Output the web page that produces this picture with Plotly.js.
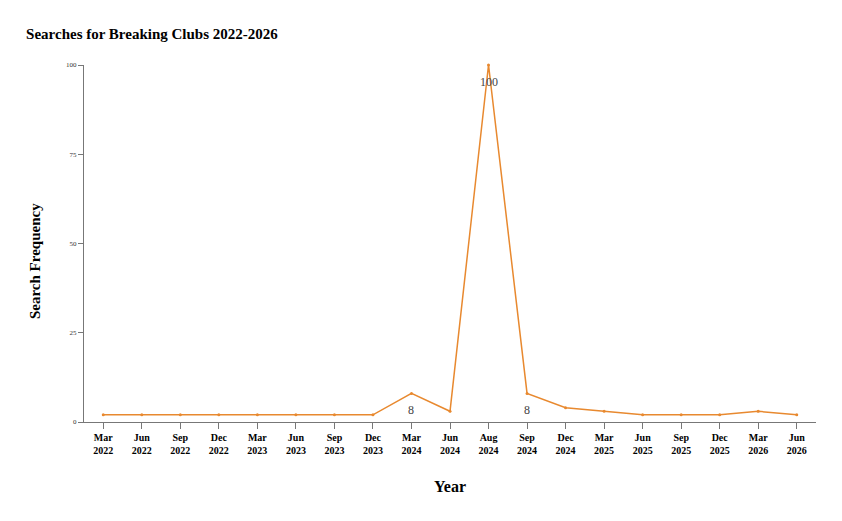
<!DOCTYPE html>
<html>
<head>
<meta charset="utf-8">
<script src="https://cdn.plot.ly/plotly-3.0.1.min.js"></script>
<style>
  html, body { margin: 0; padding: 0; background: #ffffff; }
  #chart { width: 842px; height: 521px; }
</style>
</head>
<body>
<div id="chart"></div>
<script>
(function () {
  'use strict';

  var fontFamily = '"Liberation Serif", "Times New Roman", serif';
  var lineColor = '#e8892f';
  var axisColor = '#777777';

  // Data
  var periods = [
    'Mar<br>2022', 'Jun<br>2022', 'Sep<br>2022', 'Dec<br>2022',
    'Mar<br>2023', 'Jun<br>2023', 'Sep<br>2023', 'Dec<br>2023',
    'Mar<br>2024', 'Jun<br>2024', 'Aug<br>2024', 'Sep<br>2024',
    'Dec<br>2024', 'Mar<br>2025', 'Jun<br>2025', 'Sep<br>2025',
    'Dec<br>2025', 'Mar<br>2026', 'Jun<br>2026'
  ];
  var searches = [2, 2, 2, 2, 2, 2, 2, 2, 8, 3, 100, 8, 4, 3, 2, 2, 2, 3, 2];
  var labelled = [8, 10, 11]; // indices that get a value label
  var yTicks = [0, 25, 50, 75, 100];

  // value labels sit a little below their points
  var valueLabels = labelled.map(function (i) {
    return {
      x: periods[i],
      y: searches[i],
      xref: 'x',
      yref: 'y',
      text: String(searches[i]),
      showarrow: false,
      yshift: -17,
      font: { family: fontFamily, size: 12, color: '#444444' }
    };
  });

  var yTitle = {
    text: '<b>Search Frequency</b>',
    xref: 'paper',
    yref: 'paper',
    x: -0.066,
    y: 0.45,
    xanchor: 'center',
    yanchor: 'middle',
    textangle: -90,
    showarrow: false,
    font: { family: fontFamily, size: 15, color: '#000000' }
  };

  Plotly.newPlot('chart', [
    {
      x: periods,
      y: searches,
      type: 'scatter',
      mode: 'lines+markers',
      line: { color: lineColor, width: 1.5 },
      marker: { color: lineColor, size: 3 },
      cliponaxis: false,
      hoverinfo: 'x+y'
    }
  ], {
    width: 842,
    height: 521,
    paper_bgcolor: '#ffffff',
    plot_bgcolor: '#ffffff',
    font: { family: fontFamily, color: '#000000' },
    margin: { t: 65, r: 26, b: 99, l: 84 },
    showlegend: false,
    title: {
      text: 'Searches for Breaking Clubs 2022-2026',
      font: { family: fontFamily, size: 15, weight: 'bold', color: '#000000' },
      xref: 'container',
      x: 0.031,
      xanchor: 'left',
      yref: 'container',
      y: 0.935,
      yanchor: 'middle'
    },
    annotations: valueLabels.concat([yTitle]),
    xaxis: {
      type: 'category',
      range: [-0.5, periods.length - 0.5],
      showgrid: false,
      zeroline: false,
      showline: true,
      linecolor: axisColor,
      linewidth: 1,
      ticks: 'outside',
      ticklen: 6,
      tickcolor: axisColor,
      tickangle: 0,
      tickfont: { family: fontFamily, size: 10, weight: 'bold', color: '#000000' },
      title: {
        text: 'Year',
        font: { family: fontFamily, size: 16, weight: 'bold', color: '#000000' },
        standoff: 25
      }
    },
    yaxis: {
      range: [0, 100],
      tickvals: yTicks,
      showgrid: false,
      zeroline: false,
      showline: true,
      linecolor: axisColor,
      linewidth: 1,
      ticks: 'outside',
      ticklen: 5,
      tickcolor: axisColor,
      tickfont: { family: fontFamily, size: 7, color: '#333333' }
    }
  }, { displayModeBar: false, responsive: false });
})();
</script>
</body>
</html>
